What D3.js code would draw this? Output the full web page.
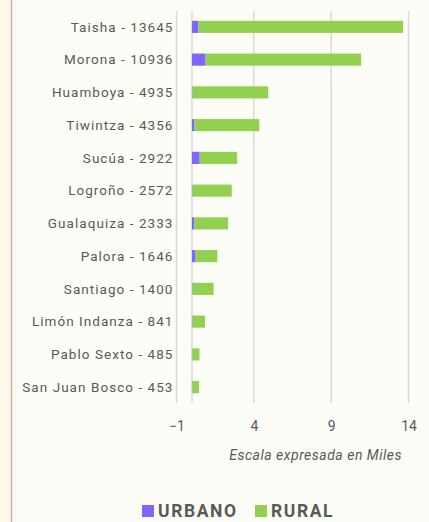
<!DOCTYPE html>
<html>
<head>
<meta charset="utf-8">
<script src="https://cdn.jsdelivr.net/npm/d3@7"></script>
<style>
  body { margin: 0; background: #fdfdf8; }
  svg { display: block; }
</style>
</head>
<body>
<svg id="chart"></svg>
<script>
// cantones, ordered top to bottom
const cantones = ['Taisha', 'Morona', 'Huamboya', 'Tiwintza', 'Sucúa', 'Logroño',
    'Gualaquiza', 'Palora', 'Santiago', 'Limón Indanza', 'Pablo Sexto', 'San Juan Bosco'];
const totales = [13645, 10936, 4935, 4356, 2922, 2572, 2333, 1646, 1400, 841, 485, 453];
// urban part
const urbano = [420, 880, 30, 160, 500, 30, 160, 230, 30, 30, 20, 20];
const rural = totales.map((t, i) => t - urbano[i]);
const ticks = [-1, 4, 9, 14];
const series = ['URBANO', 'RURAL'];
const colores = ['#7f66ff', '#92d050'];

const width = 429, height = 522;
const margin = { top: 11, right: 20, bottom: 119, left: 176.5 };
const innerW = 408.5 - margin.left;
const innerH = height - margin.top - margin.bottom;

const svg = d3.select('#chart')
    .attr('width', width)
    .attr('height', height);

// page background + left strip
svg.append('rect').attr('width', width).attr('height', height).attr('fill', '#fdfdf8');
svg.append('rect').attr('width', 11).attr('height', height).attr('fill', '#fffaea');
svg.append('line')
    .attr('x1', 11.5).attr('x2', 11.5).attr('y1', 0).attr('y2', height)
    .attr('stroke', '#e2a597').attr('stroke-width', 1.5);

const x = d3.scaleLinear().domain([-1, 14]).range([0, innerW]);
const y = d3.scaleBand().domain(cantones).range([0, innerH]).paddingInner(0.63).paddingOuter(0.3);

const chart = svg.append('g')
    .attr('transform', `translate(${margin.left},${margin.top})`);

// vertical gridlines
chart.selectAll('.grid')
    .data(ticks.concat([0]))
    .join('line')
    .attr('class', 'grid')
    .attr('x1', d => x(d)).attr('x2', d => x(d))
    .attr('y1', 0).attr('y2', innerH)
    .attr('stroke', '#d9d9d9')
    .attr('stroke-width', 1.5);

const data = cantones.map((c, i) => ({ canton: c, urbano: urbano[i] / 1000, rural: rural[i] / 1000 }));
const stack = d3.stack().keys(['urbano', 'rural'])(data);

chart.selectAll('.serie')
    .data(stack)
    .join('g')
    .attr('class', 'serie')
    .attr('fill', (d, i) => colores[i])
    .selectAll('rect')
    .data(d => d)
    .join('rect')
    .attr('x', d => x(d[0]))
    .attr('width', d => Math.max(0, x(d[1]) - x(d[0])))
    .attr('y', d => y(d.data.canton))
    .attr('height', y.bandwidth());

// category labels
chart.selectAll('.cat')
    .data(cantones)
    .join('text')
    .attr('class', 'cat')
    .attr('x', -3)
    .attr('y', d => y(d) + y.bandwidth() / 2)
    .attr('dy', '0.35em')
    .attr('text-anchor', 'end')
    .attr('fill', '#595959')
    .style('font-family', 'Roboto, sans-serif')
    .style('font-size', '13.5px')
    .style('letter-spacing', '1.05px')
    .text((d, i) => `${d} - ${totales[i]}`);

// x axis
const xAxis = d3.axisBottom(x).tickValues(ticks).tickSize(0).tickPadding(0);
const xAxisG = chart.append('g')
    .attr('transform', `translate(0,${innerH + 18})`)
    .call(xAxis);
xAxisG.select('.domain').remove();
xAxisG.selectAll('text')
    .attr('fill', '#595959')
    .style('font-family', 'Roboto, sans-serif')
    .style('font-size', '14px');

svg.append('text')
    .attr('x', 402)
    .attr('y', 460)
    .attr('text-anchor', 'end')
    .attr('fill', '#595959')
    .style('font-family', 'Roboto, sans-serif')
    .style('font-style', 'italic')
    .style('font-size', '14px')
    .style('letter-spacing', '0.5px')
    .text('Escala expresada en Miles');

// legend
const legend = svg.append('g').attr('transform', 'translate(142,511)');
const items = legend.selectAll('g')
    .data(series)
    .join('g')
    .attr('transform', (d, i) => `translate(${i * 113},0)`);
items.append('rect')
    .attr('x', 0).attr('y', -6)
    .attr('width', 12).attr('height', 12)
    .attr('fill', (d, i) => colores[i]);
items.append('text')
    .attr('x', 16)
    .attr('dy', '0.36em')
    .attr('fill', '#595959')
    .style('font-family', 'Roboto, sans-serif')
    .style('font-weight', 'bold')
    .style('font-size', '17.5px')
    .style('letter-spacing', '1.6px')
    .text(d => d);
</script>
</body>
</html>
